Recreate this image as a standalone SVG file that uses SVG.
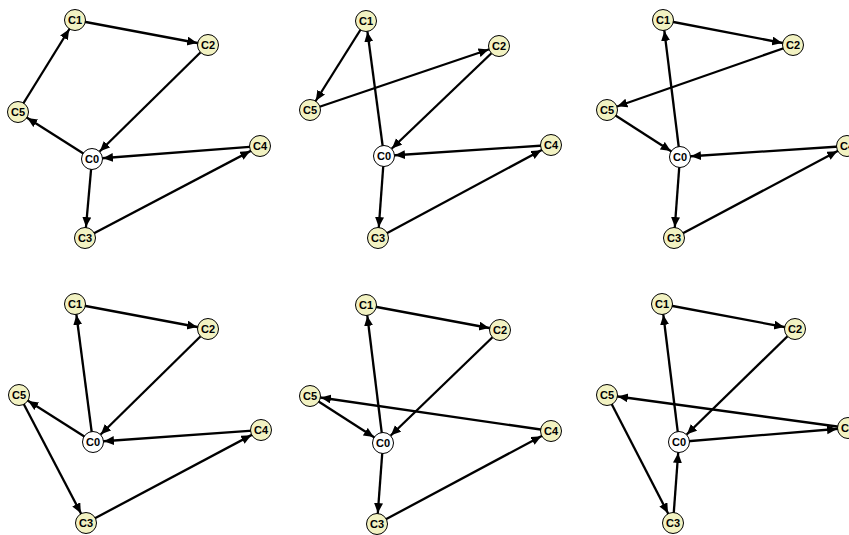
<svg xmlns="http://www.w3.org/2000/svg" width="849" height="535" viewBox="0 0 849 535">
<style>
.e{stroke:#000;stroke-width:2.3;fill:none;marker-end:url(#ah)}
.n{fill:#f2f2c2;stroke:#000;stroke-width:1}
.z{fill:#fff;stroke:#000;stroke-width:1}
.t{font-family:"Liberation Sans",Arial,sans-serif;font-weight:bold;font-size:11px;text-anchor:middle;fill:#000}
</style>
<defs>
<marker id="ah" markerUnits="userSpaceOnUse" markerWidth="24" markerHeight="10" viewBox="0 0 24 10" refX="21" refY="4.5" orient="auto">
<path d="M0,0 L10,4.5 L0,9 z" fill="#000"/>
</marker>
</defs>
<rect width="849" height="535" fill="#fff"/>
<g id="connectors">
<!-- panel 1 -->
<line class="e" x1="75" y1="20" x2="208" y2="45"/>
<line class="e" x1="208" y1="45" x2="92" y2="159"/>
<line class="e" x1="92" y1="159" x2="18" y2="112"/>
<line class="e" x1="18" y1="112" x2="75" y2="20"/>
<line class="e" x1="260" y1="146" x2="92" y2="159"/>
<line class="e" x1="92" y1="159" x2="85" y2="238"/>
<line class="e" x1="85" y1="238" x2="260" y2="146"/>
<!-- panel 2 -->
<line class="e" x1="366" y1="21" x2="310" y2="110"/>
<line class="e" x1="310" y1="110" x2="499" y2="46"/>
<line class="e" x1="499" y1="46" x2="384" y2="156"/>
<line class="e" x1="384" y1="156" x2="366" y2="21"/>
<line class="e" x1="551" y1="145" x2="384" y2="156"/>
<line class="e" x1="384" y1="156" x2="378" y2="238"/>
<line class="e" x1="378" y1="238" x2="551" y2="145"/>
<!-- panel 3 -->
<line class="e" x1="663" y1="20" x2="793" y2="45"/>
<line class="e" x1="793" y1="45" x2="607" y2="110"/>
<line class="e" x1="607" y1="110" x2="680" y2="157"/>
<line class="e" x1="680" y1="157" x2="663" y2="20"/>
<line class="e" x1="847" y1="146" x2="680" y2="157"/>
<line class="e" x1="680" y1="157" x2="674" y2="238"/>
<line class="e" x1="674" y1="238" x2="847" y2="146"/>
<!-- panel 4 -->
<line class="e" x1="75" y1="304" x2="208" y2="329"/>
<line class="e" x1="208" y1="329" x2="93" y2="442"/>
<line class="e" x1="93" y1="442" x2="75" y2="304"/>
<line class="e" x1="93" y1="442" x2="19" y2="395"/>
<line class="e" x1="19" y1="395" x2="86" y2="523"/>
<line class="e" x1="261" y1="430" x2="93" y2="442"/>
<line class="e" x1="86" y1="523" x2="261" y2="430"/>
<!-- panel 5 -->
<line class="e" x1="366" y1="305" x2="500" y2="330"/>
<line class="e" x1="500" y1="330" x2="383" y2="443"/>
<line class="e" x1="383" y1="443" x2="366" y2="305"/>
<line class="e" x1="310" y1="396" x2="383" y2="443"/>
<line class="e" x1="551" y1="431" x2="310" y2="396"/>
<line class="e" x1="383" y1="443" x2="377" y2="524"/>
<line class="e" x1="377" y1="524" x2="551" y2="431"/>
<!-- panel 6 -->
<line class="e" x1="662" y1="304" x2="795" y2="329"/>
<line class="e" x1="795" y1="329" x2="679" y2="442"/>
<line class="e" x1="679" y1="442" x2="662" y2="304"/>
<line class="e" x1="848" y1="428" x2="607" y2="395"/>
<line class="e" x1="607" y1="395" x2="673" y2="523"/>
<line class="e" x1="673" y1="523" x2="679" y2="442"/>
<line class="e" x1="679" y1="442" x2="848" y2="428"/>
</g>
<!-- panel 1 nodes -->
<g id="p1-c0"><circle class="z" cx="92" cy="159" r="10.5"/><text class="t" x="92" y="163">C0</text></g>
<g id="p1-c1"><circle class="n" cx="75" cy="20" r="10.5"/><text class="t" x="75" y="24">C1</text></g>
<g id="p1-c2"><circle class="n" cx="208" cy="45" r="10.5"/><text class="t" x="208" y="49">C2</text></g>
<g id="p1-c3"><circle class="n" cx="85" cy="238" r="10.5"/><text class="t" x="85" y="242">C3</text></g>
<g id="p1-c4"><circle class="n" cx="260" cy="146" r="10.5"/><text class="t" x="260" y="150">C4</text></g>
<g id="p1-c5"><circle class="n" cx="18" cy="112" r="10.5"/><text class="t" x="18" y="116">C5</text></g>
<!-- panel 2 nodes -->
<g id="p2-c0"><circle class="z" cx="384" cy="156" r="10.5"/><text class="t" x="384" y="160">C0</text></g>
<g id="p2-c1"><circle class="n" cx="366" cy="21" r="10.5"/><text class="t" x="366" y="25">C1</text></g>
<g id="p2-c2"><circle class="n" cx="499" cy="46" r="10.5"/><text class="t" x="499" y="50">C2</text></g>
<g id="p2-c3"><circle class="n" cx="378" cy="238" r="10.5"/><text class="t" x="378" y="242">C3</text></g>
<g id="p2-c4"><circle class="n" cx="551" cy="145" r="10.5"/><text class="t" x="551" y="149">C4</text></g>
<g id="p2-c5"><circle class="n" cx="310" cy="110" r="10.5"/><text class="t" x="310" y="114">C5</text></g>
<!-- panel 3 nodes -->
<g id="p3-c0"><circle class="z" cx="680" cy="157" r="10.5"/><text class="t" x="680" y="161">C0</text></g>
<g id="p3-c1"><circle class="n" cx="663" cy="20" r="10.5"/><text class="t" x="663" y="24">C1</text></g>
<g id="p3-c2"><circle class="n" cx="793" cy="45" r="10.5"/><text class="t" x="793" y="49">C2</text></g>
<g id="p3-c3"><circle class="n" cx="674" cy="238" r="10.5"/><text class="t" x="674" y="242">C3</text></g>
<g id="p3-c4"><circle class="n" cx="847" cy="146" r="10.5"/><text class="t" x="847" y="150">C4</text></g>
<g id="p3-c5"><circle class="n" cx="607" cy="110" r="10.5"/><text class="t" x="607" y="114">C5</text></g>
<!-- panel 4 nodes -->
<g id="p4-c0"><circle class="z" cx="93" cy="442" r="10.5"/><text class="t" x="93" y="446">C0</text></g>
<g id="p4-c1"><circle class="n" cx="75" cy="304" r="10.5"/><text class="t" x="75" y="308">C1</text></g>
<g id="p4-c2"><circle class="n" cx="208" cy="329" r="10.5"/><text class="t" x="208" y="333">C2</text></g>
<g id="p4-c3"><circle class="n" cx="86" cy="523" r="10.5"/><text class="t" x="86" y="527">C3</text></g>
<g id="p4-c4"><circle class="n" cx="261" cy="430" r="10.5"/><text class="t" x="261" y="434">C4</text></g>
<g id="p4-c5"><circle class="n" cx="19" cy="395" r="10.5"/><text class="t" x="19" y="399">C5</text></g>
<!-- panel 5 nodes -->
<g id="p5-c0"><circle class="z" cx="383" cy="443" r="10.5"/><text class="t" x="383" y="447">C0</text></g>
<g id="p5-c1"><circle class="n" cx="366" cy="305" r="10.5"/><text class="t" x="366" y="309">C1</text></g>
<g id="p5-c2"><circle class="n" cx="500" cy="330" r="10.5"/><text class="t" x="500" y="334">C2</text></g>
<g id="p5-c3"><circle class="n" cx="377" cy="524" r="10.5"/><text class="t" x="377" y="528">C3</text></g>
<g id="p5-c4"><circle class="n" cx="551" cy="431" r="10.5"/><text class="t" x="551" y="435">C4</text></g>
<g id="p5-c5"><circle class="n" cx="310" cy="396" r="10.5"/><text class="t" x="310" y="400">C5</text></g>
<!-- panel 6 nodes -->
<g id="p6-c0"><circle class="z" cx="679" cy="442" r="10.5"/><text class="t" x="679" y="446">C0</text></g>
<g id="p6-c1"><circle class="n" cx="662" cy="304" r="10.5"/><text class="t" x="662" y="308">C1</text></g>
<g id="p6-c2"><circle class="n" cx="795" cy="329" r="10.5"/><text class="t" x="795" y="333">C2</text></g>
<g id="p6-c3"><circle class="n" cx="673" cy="523" r="10.5"/><text class="t" x="673" y="527">C3</text></g>
<g id="p6-c4"><circle class="n" cx="848" cy="428" r="10.5"/><text class="t" x="848" y="432">C4</text></g>
<g id="p6-c5"><circle class="n" cx="607" cy="395" r="10.5"/><text class="t" x="607" y="399">C5</text></g>
</svg>
